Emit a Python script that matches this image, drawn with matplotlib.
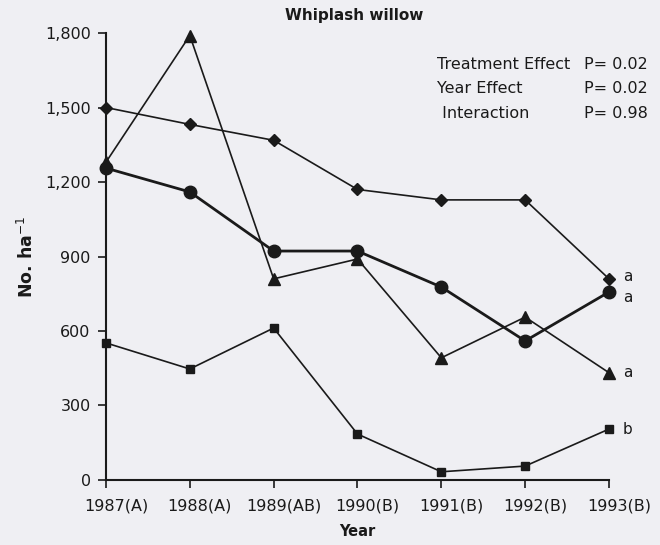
import matplotlib
matplotlib.use("Agg")
import matplotlib.pyplot as plt
import matplotlib.transforms as mtransforms

years = ["1987(A)", "1988(A)", "1989(AB)", "1990(B)", "1991(B)", "1992(B)", "1993(B)"]
diamond = [1500, 1432, 1368, 1170, 1128, 1128, 810]
circle = [1256, 1160, 922, 922, 777, 560, 757]
triangle = [1280, 1790, 810, 890, 492, 656, 432]
square = [552, 447, 612, 185, 33, 56, 205]
end_letters = ["a", "a", "a", "b"]
y_ticks = [0, 300, 600, 900, 1200, 1500, 1800]
stats = [("Treatment Effect", "P= 0.02"), ("Year Effect", "P= 0.02"), (" Interaction", "P= 0.98")]

bg = "#efeff3"
ink = "#1a1a1a"
plt.rcParams["font.family"] = ["DejaVu Sans"]

fig = plt.figure(figsize=(6.6, 5.45), dpi=100, facecolor=bg)
ax = fig.add_axes([0.1606, 0.1193, 0.7621, 0.8201], facecolor=bg)

x = list(range(len(years)))
common = dict(color=ink, clip_on=False, zorder=3)
ax.plot(x, diamond, marker="D", markersize=6, linewidth=1.2, **common)
ax.plot(x, circle, marker="o", markersize=9, linewidth=2.0, **common)
ax.plot(x, triangle, marker="^", markersize=8, linewidth=1.2, **common)
ax.plot(x, square, marker="s", markersize=6, linewidth=1.2, **common)

ax.set_xlim(0, len(years) - 1)
ax.set_ylim(0, 1800)
ax.set_xticks(x)
ax.set_xticklabels(years)
ax.set_yticks(y_ticks)
ax.set_yticklabels([f"{v:,}" for v in y_ticks])
for s in ("top", "right"):
    ax.spines[s].set_visible(False)
for s in ("left", "bottom"):
    ax.spines[s].set_linewidth(1.5)
    ax.spines[s].set_color(ink)
ax.tick_params(direction="out", length=6, width=1.2, colors=ink, labelsize=11.5, pad=5)
ax.tick_params(axis="x", pad=7)

# year labels sit a little right of their ticks
shift = mtransforms.ScaledTranslation(0.10, 0, fig.dpi_scale_trans)
for lbl in ax.get_xticklabels():
    lbl.set_transform(lbl.get_transform() + shift)

# significance letters beside the 1993 points (pixel offsets keep them apart)
for series, letter, dy in zip([diamond, circle, triangle, square], end_letters, [2, -4, 0, 0]):
    ax.annotate(letter, (x[-1], series[-1]), xytext=(10, dy), textcoords="offset points",
                va="center", ha="left", fontsize=11, color=ink)

ax.set_xlabel("Year", fontsize=10.5, fontweight="bold", color=ink, labelpad=8)
ax.set_ylabel("No. ha$^{-1}$", fontsize=12.5, fontweight="bold", color=ink, labelpad=6)
fig.text(0.536, 0.972, "Whiplash willow", ha="center", va="center", fontsize=11,
         fontweight="bold", color=ink)

for i, (name, p) in enumerate(stats):
    yy = 0.882 - i * 0.045
    fig.text(0.662, yy, name, ha="left", va="center", fontsize=11.5, color=ink)
    fig.text(0.982, yy, p, ha="right", va="center", fontsize=11.5, color=ink)

fig.savefig("out.png", dpi=100, facecolor=bg)
